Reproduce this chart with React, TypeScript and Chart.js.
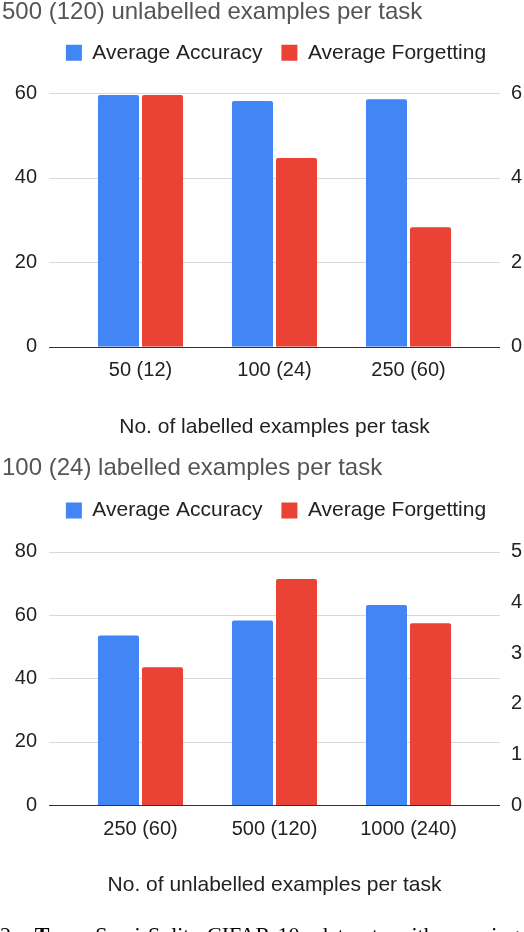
import React, { useEffect, useRef } from 'react';
import { Chart, registerables } from 'chart.js';

Chart.register(...registerables);

// ---------- data ----------
const seriesNames = ['Average Accuracy', 'Average Forgetting'];
const seriesColors = ['#4285F4', '#EA4335'];

const topTitle = '500 (120) unlabelled examples per task';
const topCategories = ['50 (12)', '100 (24)', '250 (60)'];
const topAccuracy = [59.6, 58.2, 58.6];
const topForgetting = [5.96, 4.47, 2.83];
const topXTitle = 'No. of labelled examples per task';
const topLeftRange = [0, 60, 20];
const topRightRange = [0, 6, 2];

const bottomTitle = '100 (24) labelled examples per task';
const bottomCategories = ['250 (60)', '500 (120)', '1000 (240)'];
const bottomAccuracy = [53.5, 58.3, 63.2];
const bottomForgetting = [2.72, 4.46, 3.59];
const bottomXTitle = 'No. of unlabelled examples per task';
const bottomLeftRange = [0, 80, 20];
const bottomRightRange = [0, 5, 1];

const captionLead = '2: ';
const captionBold = 'Top:';
const captionRest = ' Semi-Split CIFAR-10 dataset with varying';

const FONT = '"Liberation Sans", Arial, sans-serif';

const sheetPlugin = {
  id: 'sheetPlugin',
  beforeLayout(chart: any, _a: any, opts: any) {
    const lg = chart.legend;
    if (lg && !lg.__patched) {
      const orig = lg.fit.bind(lg);
      lg.fit = function () {
        orig();
        this.height += opts.legendExtra;
      };
      lg.__patched = true;
    }
  },
  afterLayout(chart: any, _a: any, opts: any) {
    const lg = chart.legend;
    if (lg) {
      const dx = opts.legendCenter - (lg.left + lg.right) / 2;
      lg.left += dx;
      lg.right += dx;
    }
  },
  beforeDatasetsDraw(chart: any, _a: any, opts: any) {
    const y = chart.scales.y;
    const { left, right } = chart.chartArea;
    const ctx = chart.ctx;
    ctx.save();
    ctx.lineWidth = 1;
    ctx.strokeStyle = '#d9d9d9';
    y.ticks.forEach((t: any) => {
      if (t.value === 0) return;
      const py = Math.round(y.getPixelForValue(t.value)) + 0.5;
      ctx.beginPath();
      ctx.moveTo(left - opts.ext, py);
      ctx.lineTo(right + opts.ext, py);
      ctx.stroke();
    });
    ctx.restore();
  },
  afterDatasetsDraw(chart: any, _a: any, opts: any) {
    const y = chart.scales.y;
    const { left, right } = chart.chartArea;
    const ctx = chart.ctx;
    const py = Math.round(y.getPixelForValue(0)) + 0.5;
    ctx.save();
    ctx.lineWidth = 1;
    ctx.strokeStyle = '#333333';
    ctx.beginPath();
    ctx.moveTo(left - opts.ext, py);
    ctx.lineTo(right + opts.ext, py);
    ctx.stroke();
    ctx.restore();
  },
};

type Cfg = {
  title: string;
  categories: string[];
  acc: number[];
  forg: number[];
  xTitle: string;
  left: number[];
  right: number[];
  height: number;
  titlePad: { top: number; bottom: number };
  legendExtra: number;
  plotBottom: number;
  xTickPad: number;
  xTitlePadBottom: number;
};

function makeConfig(c: Cfg): any {
  const barStyle = {
    borderWidth: 0,
    borderRadius: { topLeft: 2, topRight: 2 },
    borderSkipped: 'bottom',
    categoryPercentage: 0.657,
    barPercentage: 0.932,
  };
  return {
    type: 'bar',
    data: {
      labels: c.categories,
      datasets: [
        {
          label: seriesNames[0],
          data: c.acc,
          backgroundColor: seriesColors[0],
          yAxisID: 'y',
          ...barStyle,
        },
        {
          label: seriesNames[1],
          data: c.forg,
          backgroundColor: seriesColors[1],
          yAxisID: 'y1',
          ...barStyle,
        },
      ],
    },
    options: {
      responsive: false,
      maintainAspectRatio: false,
      animation: false,
      devicePixelRatio: 1,
      layout: { padding: { left: 2, right: 0, top: 0, bottom: 0 } },
      plugins: {
        title: {
          display: true,
          text: c.title,
          align: 'start',
          color: '#555555',
          font: { family: FONT, size: 24, weight: 'normal', lineHeight: 0.95 },
          padding: c.titlePad,
        },
        legend: {
          display: true,
          position: 'top',
          align: 'center',
          labels: {
            boxWidth: 16,
            boxHeight: 16,
            padding: 19,
            color: '#222222',
            font: { family: FONT, size: 21 },
          },
        },
        tooltip: { enabled: false },
        sheetPlugin: { legendExtra: c.legendExtra, legendCenter: 276, ext: 24.5 },
      },
      scales: {
        x: {
          type: 'category',
          offset: true,
          grid: { display: false, drawTicks: false },
          border: { display: false },
          ticks: {
            color: '#222222',
            font: { family: FONT, size: 20 },
            padding: c.xTickPad,
            maxRotation: 0,
            autoSkip: false,
          },
          title: {
            display: true,
            text: c.xTitle,
            color: '#222222',
            font: { family: FONT, size: 21 },
            padding: { top: 0, bottom: c.xTitlePadBottom },
          },
          afterFit(scale: any) {
            scale.height = c.height - c.plotBottom;
          },
        },
        y: {
          type: 'linear',
          position: 'left',
          min: c.left[0],
          max: c.left[1],
          grid: { display: false, drawTicks: false },
          border: { display: false },
          ticks: {
            stepSize: c.left[2],
            color: '#222222',
            font: { family: FONT, size: 20 },
            padding: 36.5,
          },
          afterFit(scale: any) {
            scale.width = 71.5;
          },
        },
        y1: {
          type: 'linear',
          position: 'right',
          min: c.right[0],
          max: c.right[1],
          grid: { display: false, drawTicks: false },
          border: { display: false },
          ticks: {
            stepSize: c.right[2],
            color: '#222222',
            font: { family: FONT, size: 20 },
            padding: 35.5,
          },
          afterFit(scale: any) {
            scale.width = 48.5;
          },
        },
      },
    },
    plugins: [sheetPlugin],
  };
}

function BarChart({ cfg }: { cfg: Cfg }) {
  const ref = useRef<HTMLCanvasElement | null>(null);
  useEffect(() => {
    if (!ref.current) return;
    const chart = new Chart(ref.current, makeConfig(cfg));
    return () => chart.destroy();
  }, [cfg]);
  return (
    <canvas
      ref={ref}
      width={524}
      height={cfg.height}
      style={{ display: 'block', width: 524, height: cfg.height }}
    />
  );
}

const topCfg: Cfg = {
  title: topTitle,
  categories: topCategories,
  acc: topAccuracy,
  forg: topForgetting,
  xTitle: topXTitle,
  left: topLeftRange,
  right: topRightRange,
  height: 455,
  titlePad: { top: 0.5, bottom: 0 },
  legendExtra: 20.0,
  plotBottom: 346.7,
  xTickPad: 12,
  xTitlePadBottom: 15,
};

const bottomCfg: Cfg = {
  title: bottomTitle,
  categories: bottomCategories,
  acc: bottomAccuracy,
  forg: bottomForgetting,
  xTitle: bottomXTitle,
  left: bottomLeftRange,
  right: bottomRightRange,
  height: 477,
  titlePad: { top: 2.1, bottom: 1.1 },
  legendExtra: 20.7,
  plotBottom: 350,
  xTickPad: 12.6,
  xTitlePadBottom: 34.3,
};

export default function App() {
  return (
    <div
      style={{
        position: 'absolute',
        left: 0,
        top: 0,
        width: 524,
        height: 932,
        overflow: 'hidden',
        background: '#ffffff',
      }}
    >
      <BarChart cfg={topCfg} />
      <BarChart cfg={bottomCfg} />
      <div
        style={{
          position: 'absolute',
          left: 0,
          top: 924,
          whiteSpace: 'nowrap',
          fontFamily: '"Liberation Serif", "Times New Roman", serif',
          fontSize: 22,
          lineHeight: '22px',
          wordSpacing: 12,
          color: '#000',
        }}
      >
        {captionLead}
        <b>{captionBold}</b>
        {captionRest}
      </div>
    </div>
  );
}
